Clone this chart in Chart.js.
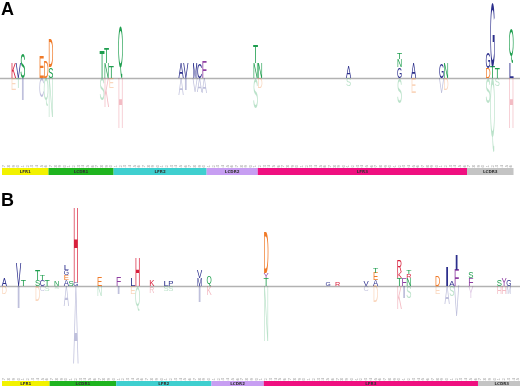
<!DOCTYPE html>
<html><head><meta charset="utf-8">
<script src="https://cdn.jsdelivr.net/npm/chart.js@4.4.1/dist/chart.umd.min.js"></script>
<style>
html,body{margin:0;padding:0;background:#fff;width:520px;height:386px;overflow:hidden;position:relative}
#ca{position:absolute;left:0;top:0;width:520px;height:180px}
#cb{position:absolute;left:0;top:190px;width:530px;height:196px}
.lab{position:absolute;left:1px;font:bold 18px 'Liberation Sans',Arial,sans-serif;color:#000;line-height:1;z-index:2}
</style></head><body>
<canvas id="ca" width="520" height="180"></canvas>
<canvas id="cb" width="530" height="196"></canvas>
<div class="lab" style="top:0px">A</div>
<div class="lab" style="top:191px">B</div>
<script>
// ---- tick labels (residue positions) ----
const firstPosition = 17;
const positionCount = 110;
const positions = Array.from({length: positionCount}, (_, i) => String(firstPosition + i));

// ---- regions ----
const regionNames = ["LFR1", "LCDR1", "LFR2", "LCDR2", "LFR3", "LCDR3"];
const regionStart = [0, 10, 24, 44, 55, 100];
const regionEnd   = [9, 23, 43, 54, 99, 109];
const regionColors = ["#f2f200", "#1fb41f", "#3fcfcf", "#c79ef2", "#ef1080", "#c4c4c4"];

// ---- panel A : enriched (above) ----
const aUpPos  = [2,3,4,8,9,10,10,21,22,22,23,25,38,39,41,42,43,54,54,55,74,85,85,85,88,94,95,104,104,105,105,106,109,109];
const aUpLet  = ['K','V','S','E','D','S','D','T','N','T','T','Q','A','V','M','C','F','N','T','N','A','G','N','T','A','G','N','D','G','T','G','T','L','Q'];
const aUpBits = [0.75,0.75,1.25,1.05,0.8,0.55,1.4,1.35,0.75,0.75,0.55,2.55,0.75,0.75,0.75,0.75,0.8,0.75,0.9,0.75,0.55,0.55,0.4,0.35,0.75,0.75,0.75,0.5,0.8,0.55,3.2,0.5,0.75,1.75];
// ---- panel A : depleted (below) ----
const aDnPos  = [2,3,4,8,9,10,21,22,23,25,38,39,41,42,43,54,55,74,85,88,94,95,104,105,106,109];
const aDnLet  = ['E','T','I','C','Q','N','S','K','E','H','A','I','V','A','A','S','D','S','S','E','V','D','S','Q','S','H'];
const aDnBits = [0.6,0.5,1.1,0.95,1.4,1.95,1.1,1.45,0.5,2.5,0.85,0.6,0.7,0.7,0.75,1.5,0.5,0.4,1.25,0.75,0.75,0.6,1.25,3.7,0.4,2.5];

// ---- panel B : enriched (above) ----
const bUpPos  = [0,3,4,7,7,8,8,9,11,13,13,13,13,14,15,15,20,24,27,28,31,34,35,41,41,43,55,55,55,68,70,76,78,78,78,83,83,83,84,85,85,85,91,93,94,95,95,98,98,104,105,106];
const bUpLet  = ['A','V','T','S','T','C','T','T','N','A','E','G','L','S','G','H','E','F','L','H','K','L','P','M','V','Q','T','Y','D','G','R','V','A','E','T','T','K','R','F','N','R','T','D','I','A','F','I','F','S','S','Y','G'];
const bUpBits = [0.4,1.15,0.3,0.3,0.5,0.3,0.25,0.3,0.25,0.3,0.25,0.25,0.25,0.25,0.2,3.7,0.45,0.45,0.4,1.4,0.3,0.25,0.25,0.4,0.4,0.45,0.4,0.25,2.05,0.2,0.2,0.25,0.3,0.35,0.25,0.4,0.3,0.6,0.4,0.4,0.2,0.2,0.5,0.95,0.25,0.8,0.75,0.4,0.3,0.35,0.35,0.35];
// ---- panel B : depleted (below) ----
const bDnPos  = [0,3,7,8,9,11,13,15,20,24,27,28,31,34,35,41,43,55,76,78,83,84,85,91,93,94,95,98,104,105,106];
const bDnLet  = ['D','I','D','C','S','S','A','A','N','I','E','Q','R','S','S','I','K','N','C','D','K','I','S','E','A','S','V','Y','H','H','M'];
const bDnBits = [0.4,1.1,0.75,0.25,0.25,0.15,1.0,3.85,0.5,0.4,0.4,1.25,0.35,0.25,0.25,0.8,0.45,2.75,0.25,0.8,1.15,0.6,0.6,0.4,0.9,0.5,1.5,0.6,0.4,0.4,0.4];

// ---- residue colours ----
const navy = "#2c2f8c", purple = "#8e3ea2", green = "#1e9e4e", orange = "#f07a28", red = "#d8203c";
const letterColor = {A:navy,V:navy,L:navy,I:navy,M:navy,P:navy,G:navy,C:navy,W:navy,
  F:purple,Y:purple,S:green,T:green,N:green,Q:green,D:orange,E:orange,K:red,R:red,H:red};

function stackEntries(pos, lets, bits, up) {
  const acc = {};
  return pos.map((p, i) => {
    const lo = acc[p] || 0, hi = lo + bits[i];
    acc[p] = hi;
    return {x: positions[p], y: up ? [lo, hi] : [-hi, -lo], letter: lets[i], pale: !up};
  });
}

function drawLetter(ctx, letter, cx, top, bottom, w, color, alpha) {
  const F = 100;
  ctx.save();
  ctx.font = "500 " + F + "px 'Liberation Sans', Arial, sans-serif";
  const m = ctx.measureText(letter);
  const asc = m.actualBoundingBoxAscent, desc = m.actualBoundingBoxDescent;
  const gh = asc + desc;
  const h = bottom - top;
  if (h <= 0) { ctx.restore(); return; }
  ctx.translate(cx - w / 2, top);
  ctx.scale(w / m.width, h / gh);
  ctx.fillStyle = color;
  ctx.globalAlpha = alpha;
  ctx.textBaseline = "alphabetic";
  ctx.textAlign = "left";
  ctx.fillText(letter, 0, asc);
  ctx.restore();
}

const logoPlugin = {
  id: "logo",
  beforeDatasetsDraw(chart) {
    const {ctx} = chart;
    const y0 = Math.round(chart.scales.y.getPixelForValue(0)) + 0.5;
    ctx.save();
    ctx.strokeStyle = "#b2b2b2";
    ctx.lineWidth = 1.3;
    ctx.beginPath(); ctx.moveTo(0, y0); ctx.lineTo(chart.width, y0); ctx.stroke();
    ctx.restore();
  },
  afterDatasetsDraw(chart) {
    const {ctx} = chart;
    chart.data.datasets.forEach((ds, di) => {
      const meta = chart.getDatasetMeta(di);
      meta.data.forEach((el, j) => {
        const d = ds.data[j];
        const p = el.getProps(["x", "y", "base", "width"], true);
        const top = Math.min(p.y, p.base), bottom = Math.max(p.y, p.base);
        drawLetter(ctx, d.letter, p.x, top, bottom, p.width * 1.1,
          letterColor[d.letter] || navy, d.pale ? 0.3 : 1);
      });
    });
  },
  afterDraw(chart, args, opts) {
    const {ctx} = chart;
    const xs = chart.scales.x;
    const half = (xs.getPixelForTick(1) - xs.getPixelForTick(0)) / 2;
    const yb = chart.chartArea.bottom + opts.offset;
    ctx.save();
    regionNames.forEach((name, i) => {
      const x0 = xs.getPixelForTick(regionStart[i]) - half;
      const x1 = xs.getPixelForTick(regionEnd[i]) + half;
      ctx.fillStyle = regionColors[i];
      ctx.fillRect(x0, yb, x1 - x0, opts.height);
      ctx.fillStyle = "#333";
      ctx.font = "bold 4px 'DejaVu Sans', sans-serif";
      ctx.textAlign = "center";
      ctx.textBaseline = "middle";
      ctx.fillText(name, (x0 + x1) / 2, yb + opts.height / 2);
    });
    ctx.restore();
  }
};

function makePanel(id, upPos, upLet, upBits, dnPos, dnLet, dnBits, yMax, yMin, axisH, tickPad, bandOff, bandH) {
  return new Chart(document.getElementById(id), {
    type: "bar",
    data: {
      labels: positions,
      datasets: [
        {data: stackEntries(upPos, upLet, upBits, true), backgroundColor: "rgba(0,0,0,0)", borderWidth: 0},
        {data: stackEntries(dnPos, dnLet, dnBits, false), backgroundColor: "rgba(0,0,0,0)", borderWidth: 0}
      ]
    },
    options: {
      responsive: false,
      animation: false,
      devicePixelRatio: 1,
      layout: {padding: {left: 2, right: 0, top: 0, bottom: 0}},
      datasets: {bar: {grouped: false, barPercentage: 1, categoryPercentage: 1}},
      plugins: {legend: {display: false}, tooltip: {enabled: false},
        logo: {offset: bandOff, height: bandH}},
      scales: {
        x: {
          grid: {display: false}, border: {display: false},
          ticks: {autoSkip: false, minRotation: 90, maxRotation: 90, padding: tickPad,
            color: "#a0a0a0", font: {size: 4, family: "'DejaVu Sans', sans-serif"}},
          afterFit: (s) => { s.height = axisH; }
        },
        y: {display: false, min: yMin, max: yMax}
      }
    },
    plugins: [logoPlugin]
  });
}

makePanel("ca", aUpPos, aUpLet, aUpBits, aDnPos, aDnLet, aDnBits, 3.9, -3.75, 27, 4, 15, 7);
makePanel("cb", bUpPos, bUpLet, bUpBits, bDnPos, bDnLet, bDnBits, 4.8, -4.1, 18, 2, 13, 6);
</script>
</body></html>
